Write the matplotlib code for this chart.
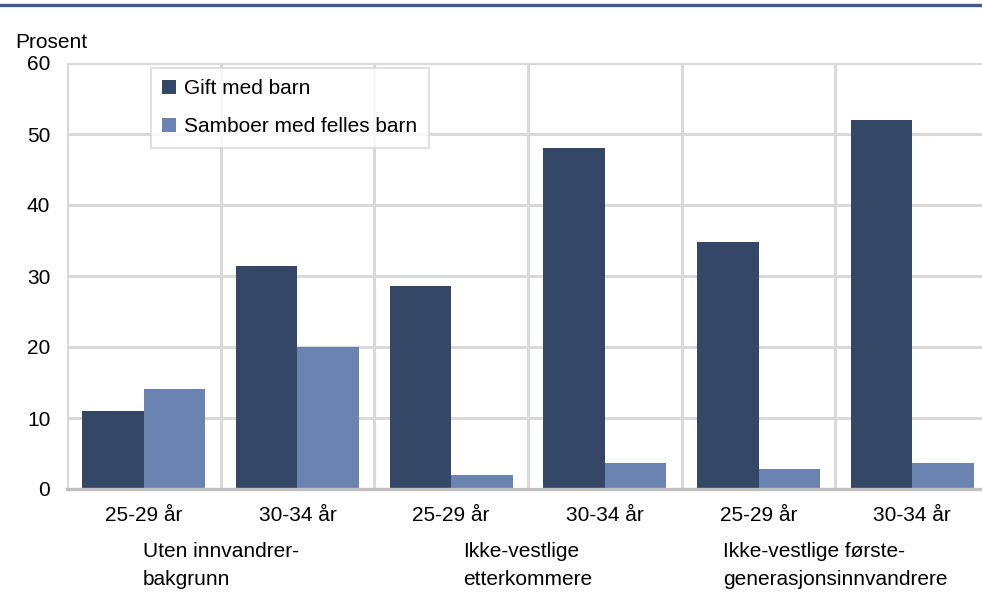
import matplotlib.pyplot as plt
import numpy as np
from matplotlib.lines import Line2D
from matplotlib.patches import Patch
from matplotlib.transforms import blended_transform_factory

plt.rcParams["font.family"] = ["Liberation Sans", "DejaVu Sans"]

_DARK = "#344767"
_LIGHT = "#6a83b0"
_GRID = "#d9d9d9"
_RULE = "#3f5a86"

age_labels = ["25-29 år", "30-34 år", "25-29 år", "30-34 år", "25-29 år", "30-34 år"]
group_labels = ["Uten innvandrer-\nbakgrunn", "Ikke-vestlige\netterkommere",
                "Ikke-vestlige første-\ngenerasjonsinnvandrere"]
gift = [11.0, 31.4, 28.6, 48.0, 34.8, 52.0]
samboer = [14.1, 20.0, 2.0, 3.7, 2.8, 3.7]
series_names = ["Gift med barn", "Samboer med felles barn"]

W, H = 982, 610
fig = plt.figure(figsize=(W / 100, H / 100), dpi=100)
ax = fig.add_axes([67 / W, 1 - 489 / H, 922 / W, (489 - 63) / H])

x = np.arange(len(age_labels))
bw = 0.4
ax.bar(x - bw / 2, gift, width=bw, color=_DARK, zorder=3)
ax.bar(x + bw / 2, samboer, width=bw, color=_LIGHT, zorder=3)

ax.set_xlim(-0.5, len(age_labels) - 0.5)
ax.set_ylim(0, 60)
ax.set_yticks(range(0, 61, 10))
ax.set_xticks(x)
ax.set_xticklabels(age_labels)
ax.tick_params(length=0, labelsize=15, pad=12)

# grid: horizontal at each tick, vertical between categories
for yv in range(10, 61, 10):
    ax.axhline(yv, color=_GRID, lw=2.2, zorder=1)
for xv in np.arange(-0.5, len(age_labels), 1.0):
    ax.axvline(xv, color=_GRID, lw=2.2, zorder=1)

for s in ["top", "right", "left"]:
    ax.spines[s].set_visible(False)
ax.spines["bottom"].set_color("#bfbfbf")
ax.spines["bottom"].set_linewidth(2.4)
ax.spines["bottom"].set_zorder(4)

# group labels below pairs of categories
trans = blended_transform_factory(ax.transData, fig.transFigure)
for i, lab in enumerate(group_labels):
    ax.text(2 * i + 0.5, 1 - 542 / H, lab, transform=trans, ha="center", va="top",
            multialignment="left", fontsize=15, linespacing=1.6)

fig.text(15 / W, 1 - 43 / H, "Prosent", fontsize=15, va="center", ha="left")

# top rule
fig.add_artist(Line2D([0, 1], [1 - 5 / H, 1 - 5 / H], transform=fig.transFigure,
                      color=_RULE, lw=2.4))

handles = [Patch(facecolor=_DARK), Patch(facecolor=_LIGHT)]
leg = fig.legend(handles, series_names, loc="upper left",
                 bbox_to_anchor=(151 / W, 1 - 68 / H), bbox_transform=fig.transFigure,
                 fontsize=15, frameon=True, fancybox=False, borderaxespad=0,
                 handlelength=0.65, handleheight=0.65, handletextpad=0.4,
                 labelspacing=0.9, borderpad=0.55)
leg.get_frame().set_edgecolor(_GRID)
leg.get_frame().set_linewidth(1.5)

fig.savefig("out.png", dpi=100)
